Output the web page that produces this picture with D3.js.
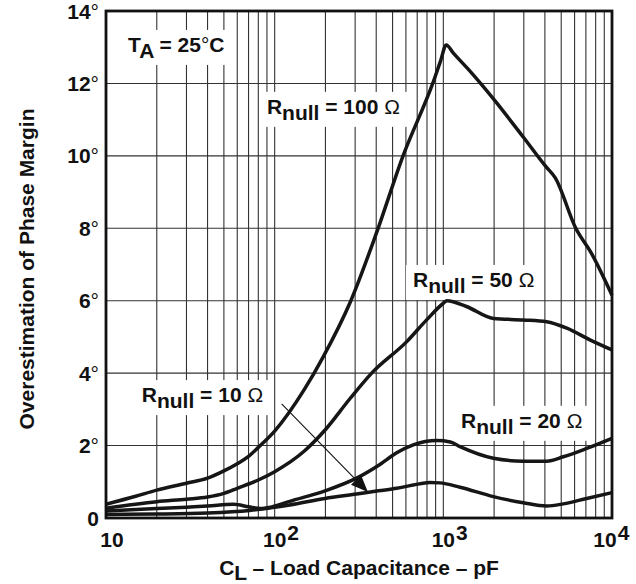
<!DOCTYPE html>
<html>
<head>
<meta charset="utf-8">
<script src="https://cdn.jsdelivr.net/npm/d3@7"></script>
<style>
body{margin:0;background:#fff;}
text{font-family:"Liberation Sans",Arial,Helvetica,sans-serif;font-weight:bold;fill:#111;}
</style>
</head>
<body>
<svg id="chart"></svg>
<script>
//load capacitance (pF) vs overestimation of phase margin (deg)
var r100 = [[10,0.38],[15,0.6],[20,0.77],[30,0.96],[40,1.1],[50,1.3],[60,1.5],[70,1.7],[80,1.95],[100,2.4],[150,3.55],[194,4.45],[280,5.95],[400,7.85],[577,10],[865,12],[960,12.6],[1040,13.06],[1150,12.83],[1400,12.4],[1960,11.6],[3000,10.5],[4060,9.7],[4600,9.4],[6100,8.0],[7570,7.3],[10000,6.15]];
var r50 = [[10,0.27],[20,0.45],[30,0.52],[40,0.58],[50,0.68],[60,0.82],[80,1.05],[100,1.28],[150,1.85],[199,2.43],[280,3.3],[376,4.0],[607,4.87],[796,5.47],[1000,5.93],[1050,6.0],[1370,5.84],[1980,5.51],[2980,5.47],[4100,5.42],[5400,5.24],[7400,4.92],[10000,4.64]];
var r20 = [[10,0.19],[20,0.26],[30,0.3],[40,0.33],[57,0.38],[70,0.31],[82,0.26],[95,0.3],[123,0.46],[199,0.75],[306,1.1],[412,1.45],[529,1.8],[663,2.02],[914,2.14],[1100,2.1],[1256,1.97],[1980,1.65],[2980,1.57],[4100,1.57],[5145,1.69],[7080,1.92],[10000,2.2]];
var r10 = [[10,0.1],[20,0.11],[40,0.14],[71,0.21],[82,0.24],[95,0.28],[123,0.36],[199,0.54],[306,0.66],[412,0.75],[529,0.82],[663,0.91],[830,0.98],[955,0.97],[1256,0.85],[1980,0.59],[2980,0.42],[4100,0.33],[5145,0.39],[7080,0.54],[10000,0.7]];

var xTickValues = [10, 100, 1000, 10000];
var xTickExp = ["", "2", "3", "4"];
var yTickValues = [0, 2, 4, 6, 8, 10, 12, 14];

//labels: [text, subscript, rest, C_L anchor, deg anchor]
var curveLabels = [
	["R", "null", " = 100 ", 90, 11.16],
	["R", "null", " = 50 ", 661, 6.38],
	["R", "null", " = 10 ", 16.3, 3.2],
	["R", "null", " = 20 ", 1273, 2.49]
];

var W = 636, H = 584;
var margin = {top: 11, right: 24, bottom: 66, left: 106};

var svg = d3.select("#chart")
	.attr("width", W)
	.attr("height", H);
svg.append("rect").attr("width", W).attr("height", H).attr("fill", "#fff");

var x = d3.scaleLog()
	.domain([10, 10000])
	.range([margin.left, W - margin.right]);
var y = d3.scaleLinear()
	.domain([0, 14])
	.range([H - margin.bottom, margin.top]);

///grid
var grid = svg.append("g");
grid.selectAll(".vg")
	.data(x.ticks())
	.enter().append("line")
	.attr("x1", function(d){ return x(d); })
	.attr("x2", function(d){ return x(d); })
	.attr("y1", y(0))
	.attr("y2", y(14))
	.attr("stroke", "#333")
	.attr("stroke-width", 1.1);
grid.selectAll(".hg")
	.data(yTickValues)
	.enter().append("line")
	.attr("x1", x(10))
	.attr("x2", x(10000))
	.attr("y1", function(d){ return y(d); })
	.attr("y2", function(d){ return y(d); })
	.attr("stroke", "#333")
	.attr("stroke-width", 1.1);

///annotation boxes + text (white boxes hide the grid)
var annot = svg.append("g");

function addLabel(parts, cx, cy){
	var g = annot.append("g");
	var box = g.append("rect").attr("fill", "#fff");
	var t = g.append("text")
		.attr("x", x(cx))
		.attr("y", y(cy))
		.style("font-size", "21px");
	t.append("tspan").text(parts[0]);
	t.append("tspan").attr("dy", 6).text(parts[1]);
	t.append("tspan").attr("dy", -6).text(parts[2]);
	t.append("tspan").style("font-weight", "normal").text(parts[3]);
	if(parts[4]) t.append("tspan").text(parts[4]);
	var bb = t.node().getBBox();
	box.attr("x", bb.x - 7).attr("y", bb.y - 3)
		.attr("width", bb.width + 14).attr("height", bb.height + 6);
}

addLabel(["T", "A", " = 25", "\u00B0", "C"], 13.5, 12.87);
curveLabels.forEach(function(l){
	addLabel([l[0], l[1], l[2], "\u03A9"], l[3], l[4]);
});

///curves
var line = d3.line()
	.x(function(d){ return x(d[0]); })
	.y(function(d){ return y(d[1]); })
	.curve(d3.curveMonotoneX);

svg.append("g")
	.selectAll("path")
	.data([r100, r50, r20, r10])
	.enter().append("path")
	.attr("d", line)
	.attr("fill", "none")
	.attr("stroke", "#161616")
	.attr("stroke-width", 3.5)
	.attr("stroke-linejoin", "round");

///arrow from the 10 ohm label to its curve
var a0 = [x(110), y(3.15)], a1 = [x(357), y(0.72)];
var ang = Math.atan2(a1[1] - a0[1], a1[0] - a0[0]);
var hl = 17, hw = 7;
var base = [a1[0] - hl * Math.cos(ang), a1[1] - hl * Math.sin(ang)];
svg.append("line")
	.attr("x1", a0[0]).attr("y1", a0[1])
	.attr("x2", base[0]).attr("y2", base[1])
	.attr("stroke", "#111").attr("stroke-width", 1.1);
svg.append("path")
	.attr("d", "M" + a1[0] + "," + a1[1] +
		"L" + (base[0] - hw * Math.sin(ang)) + "," + (base[1] + hw * Math.cos(ang)) +
		"L" + (base[0] + hw * Math.sin(ang)) + "," + (base[1] - hw * Math.cos(ang)) + "Z")
	.attr("fill", "#111");

///frame
svg.append("rect")
	.attr("x", x(10)).attr("y", y(14))
	.attr("width", x(10000) - x(10))
	.attr("height", y(0) - y(14))
	.attr("fill", "none")
	.attr("stroke", "#111")
	.attr("stroke-width", 2.8);

///y tick labels
svg.append("g").selectAll("text")
	.data(yTickValues)
	.enter().append("text")
	.attr("x", margin.left - 7)
	.attr("y", function(d){ return y(d) + 7.5; })
	.attr("text-anchor", "end")
	.style("font-size", "21px")
	.each(function(d){
		var t = d3.select(this);
		t.append("tspan").text(d);
		if(d > 0) t.append("tspan").style("font-weight", "normal").text("\u00B0");
	});

///x tick labels (10, 10^2 ...)
xTickValues.forEach(function(v, i){
	var nudge = i == 0 ? 6 : (i == xTickValues.length - 1 ? -7 : 0);
	var t = svg.append("text")
		.attr("x", x(v) + nudge)
		.attr("y", y(0) + 29)
		.attr("text-anchor", "middle")
		.style("font-size", "21px")
		.text("10");
	if(xTickExp[i]){
		var bb = t.node().getBBox();
		svg.append("text")
			.attr("x", bb.x + bb.width + 1)
			.attr("y", y(0) + 22)
			.style("font-size", "21px")
			.text(xTickExp[i]);
	}
});

///axis titles
var xt = svg.append("text")
	.attr("x", (x(10) + x(10000)) / 2)
	.attr("y", 575)
	.attr("text-anchor", "middle")
	.style("font-size", "21px");
xt.append("tspan").text("C");
xt.append("tspan").attr("dy", 5).text("L");
xt.append("tspan").attr("dy", -5).text(" \u2013 Load Capacitance \u2013 pF");

svg.append("text")
	.attr("transform", "translate(34," + 269 + ") rotate(-90)")
	.attr("text-anchor", "middle")
	.style("font-size", "21px")
	.text("Overestimation of Phase Margin");
</script>
</body>
</html>
